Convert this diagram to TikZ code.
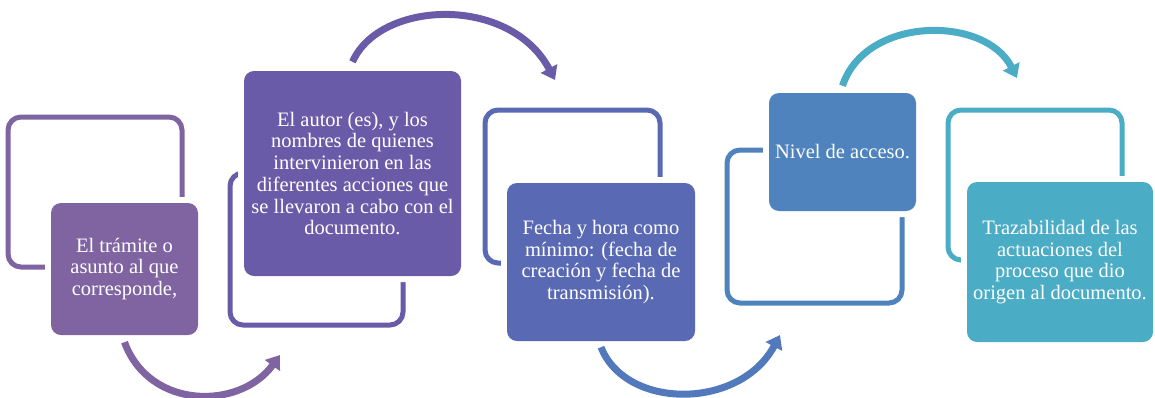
\documentclass[tikz,border=0pt]{standalone}
\usepackage{fontspec}
\setmainfont{Liberation Serif}
\usetikzlibrary{arrows.meta}
\definecolor{cA}{HTML}{8064A2}
\definecolor{cB}{HTML}{6A5BA8}
\definecolor{cC}{HTML}{5A69B4}
\definecolor{cD}{HTML}{4F83BD}
\definecolor{cE}{HTML}{4BACC6}
\definecolor{aC}{HTML}{5279BB}
\begin{document}
\begin{tikzpicture}[x=1pt,y=-1pt,
  frame/.style={draw=#1, line width=5pt, rounded corners=13pt, inner sep=0pt},
  stepbox/.style={fill=#1, rounded corners=10pt, inner sep=0pt, text=white, align=center,
     font=\fontsize{20.5}{21.7}\selectfont,
     preaction={draw=white, line width=12pt}},
  flow/.style={draw=#1, line width=7pt, -{Triangle[length=13pt, width=18pt]}}
]
\useasboundingbox (0,0) rectangle (1155,397);
% frames
\node[frame=cA, minimum width=174pt, minimum height=150pt] (f1) at (95,192) {};
\node[frame=cB, minimum width=173pt, minimum height=152pt] (f2) at (316.5,249) {};
\node[frame=cC, minimum width=175pt, minimum height=153pt] (f3) at (572.5,186.5) {};
\node[frame=cD, minimum width=175pt, minimum height=153pt] (f4) at (814.5,226.5) {};
\node[frame=cE, minimum width=174pt, minimum height=150pt] (f5) at (1035,185) {};
% boxes
\node[stepbox=cA, minimum width=147pt, minimum height=132pt] (b1) at (124.5,269)
  {El trámite o\\asunto al que\\corresponde,};
\node[stepbox=cB, minimum width=217pt, minimum height=205pt] (b2) at (352.5,173.5)
  {El autor (es), y los\\nombres de quienes\\intervinieron en las\\diferentes acciones que\\se llevaron a cabo con el\\documento.};
\node[stepbox=cC, minimum width=188pt, minimum height=158pt] (b3) at (601,262)
  {Fecha y hora como\\mínimo: (fecha de\\creación y fecha de\\transmisión).};
\node[stepbox=cD, minimum width=147pt, minimum height=118pt] (b4) at (842.5,152)
  {Nivel de acceso.};
\node[stepbox=cE, minimum width=186pt, minimum height=160pt] (b5) at (1060,262)
  {Trazabilidad de las\\actuaciones del\\proceso que dio\\origen al documento.};
% arrow ends
\coordinate (e1) at (280,355);
\coordinate (e2) at (555,80);
\coordinate (e3) at (780,335);
\coordinate (e4) at (1017,78);
% arrows
\draw[flow=cA] ([yshift=-7pt]b1.south) .. controls +(25,68) and +(-40,55) .. (e1);
\draw[flow=cB] ([yshift=9pt]b2.north) .. controls +(27.5,-62) and +(-45,-85) .. (e2);
\draw[flow=aC] ([yshift=-6pt]b3.south) .. controls +(25,63) and +(-40,75) .. (e3);
\draw[flow=cE] ([yshift=7pt]b4.north) .. controls +(23,-70) and +(-32,-63) .. (e4);
\end{tikzpicture}
\end{document}
